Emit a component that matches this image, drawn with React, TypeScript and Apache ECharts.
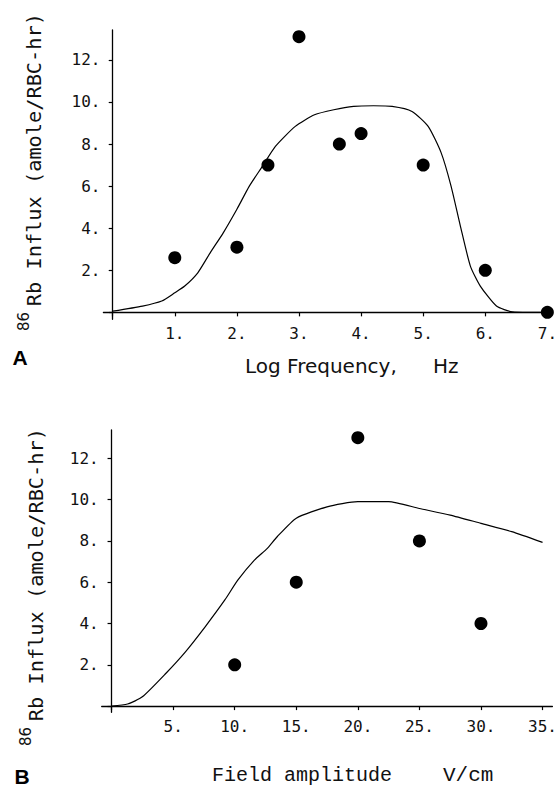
import React, { useEffect, useRef } from "react";
import * as echarts from "echarts";

// Panel A: Log frequency
const aPointX = [1, 2, 2.5, 3, 3.65, 4, 5, 6, 7];
const aPointY = [2.6, 3.1, 7.0, 13.1, 8.0, 8.5, 7.0, 2.0, 0];
const aCurveX = [0, 0.48, 0.79, 1.0, 1.16, 1.37, 1.57, 1.78, 2.0, 2.2, 2.41, 2.62, 2.94, 3.25, 3.56, 3.88, 4.2, 4.5, 4.82, 5.08, 5.29, 5.45, 5.6, 5.76, 5.92, 6.18, 6.44, 6.7, 7.0];
const aCurveY = [0.06, 0.3, 0.54, 0.93, 1.25, 1.88, 2.83, 3.78, 4.9, 6.0, 6.94, 7.89, 8.84, 9.39, 9.63, 9.79, 9.82, 9.79, 9.55, 8.84, 7.58, 5.99, 4.09, 2.2, 1.25, 0.3, 0.02, 0, 0];
const aXTicks = [0, 1, 2, 3, 4, 5, 6, 7];
const aXLabels = [1, 2, 3, 4, 5, 6, 7];

// Panel B: Field amplitude
const bPointX = [10, 15, 20, 25, 30];
const bPointY = [2.0, 6.0, 13.0, 8.0, 4.0];
const bCurveX = [0, 1.3, 2.5, 4.4, 6.0, 7.6, 9.2, 10.25, 11.6, 12.65, 13.45, 15, 17.5, 20, 22.5, 25, 27.5, 30, 32.5, 35];
const bCurveY = [0, 0.1, 0.45, 1.58, 2.63, 3.84, 5.14, 6.1, 7.07, 7.64, 8.2, 9.1, 9.65, 9.9, 9.9, 9.57, 9.25, 8.85, 8.45, 7.93];
const bXTicks = [0, 5, 10, 15, 20, 25, 30, 35];
const bXLabels = [5, 10, 15, 20, 25, 30, 35];

const yTicks = [0, 2, 4, 6, 8, 10, 12];
const yLabels = [2, 4, 6, 8, 10, 12];

const zip = (xs: number[], ys: number[]) => xs.map((x, i) => [x, ys[i]]);

export default function App() {
  const ref = useRef<HTMLDivElement>(null);
  useEffect(() => {
    if (!ref.current) return;
    const chart = echarts.init(ref.current, null, { renderer: "svg" });
    const tickFont = { fontFamily: "DejaVu Sans Mono", fontSize: 16, color: "#111" };
    const axisLine = { onZero: true, lineStyle: { color: "#000", width: 1.3 } };
    const axisTick = (vals: number[]) => ({ show: true, length: 4, customValues: vals, lineStyle: { color: "#000", width: 1.2 } });
    const mkX = (gridIndex: number, min: number, max: number, ticks: number[], labels: number[]) => ({
      type: "value", gridIndex, min, max,
      axisLine, axisTick: axisTick(ticks),
      axisLabel: { ...tickFont, customValues: labels, margin: 6, formatter: (v: number) => v + "." },
      splitLine: { show: false },
    });
    const mkY = (gridIndex: number, min: number, max: number) => ({
      type: "value", gridIndex, min, max,
      axisLine, axisTick: axisTick(yTicks),
      axisLabel: { ...tickFont, customValues: yLabels, margin: 3, formatter: (v: number) => v + "." },
      splitLine: { show: false },
    });
    const yTitle = (cx: number, cy: number) => ({
      type: "text", x: cx, y: cy, rotation: Math.PI / 2,
      style: {
        text: "{s|86}{g| }{m|Rb Influx (amole/RBC-hr)}",
        align: "center", verticalAlign: "middle",
        rich: {
          s: { fontFamily: "DejaVu Sans", fontSize: 15, verticalAlign: "top", lineHeight: 28, fill: "#111" },
          g: { fontFamily: "DejaVu Sans", fontSize: 18, verticalAlign: "bottom", lineHeight: 28, fill: "#111" },
          m: { fontFamily: "DejaVu Sans Mono", fontSize: 20.3, verticalAlign: "bottom", lineHeight: 28, fill: "#111" },
        },
        fill: "#111",
      },
    });
    chart.setOption({
      animation: false,
      backgroundColor: "#fff",
      grid: [
        { left: 103.4, right: 1, top: 30, height: 289.3 },
        { left: 101.7, right: 0, top: 430, height: 282.3 },
      ],
      xAxis: [
        mkX(0, -0.15, 7, aXTicks, aXLabels),
        mkX(1, -0.8, 35.8, bXTicks, bXLabels),
      ],
      yAxis: [mkY(0, -0.33, 13.42), mkY(1, -0.3, 13.37)],
      series: [
        { type: "line", xAxisIndex: 0, yAxisIndex: 0, data: zip(aCurveX, aCurveY), showSymbol: false, smooth: 0.2, lineStyle: { color: "#000", width: 1.2 } },
        { type: "scatter", xAxisIndex: 0, yAxisIndex: 0, data: zip(aPointX, aPointY), symbolSize: 13, itemStyle: { color: "#000", opacity: 1 } },
        { type: "line", xAxisIndex: 1, yAxisIndex: 1, data: zip(bCurveX, bCurveY), showSymbol: false, smooth: 0.2, lineStyle: { color: "#000", width: 1.2 } },
        { type: "scatter", xAxisIndex: 1, yAxisIndex: 1, data: zip(bPointX, bPointY), symbolSize: 13, itemStyle: { color: "#000", opacity: 1 } },
      ],
      graphic: [
        yTitle(30, 172),
        yTitle(32, 587),
        { type: "text", x: 20, y: 357, style: { text: "A", fontFamily: "Liberation Sans", fontWeight: "bold", fontSize: 21, fill: "#000", align: "center", verticalAlign: "middle" } },
        { type: "text", x: 22, y: 776, style: { text: "B", fontFamily: "Liberation Sans", fontWeight: "bold", fontSize: 21, fill: "#000", align: "center", verticalAlign: "middle" } },
        { type: "text", x: 245, y: 366, style: { text: "Log Frequency,", fontFamily: "DejaVu Sans", fontSize: 20, fill: "#111", align: "left", verticalAlign: "middle" } },
        { type: "text", x: 433, y: 366, style: { text: "Hz", fontFamily: "DejaVu Sans", fontSize: 20, fill: "#111", align: "left", verticalAlign: "middle" } },
        { type: "text", x: 212, y: 775, style: { text: "Field amplitude", fontFamily: "Liberation Mono", fontSize: 20, fill: "#111", align: "left", verticalAlign: "middle" } },
        { type: "text", x: 443, y: 775, style: { text: "V/cm", fontFamily: "Liberation Mono", fontSize: 21, fill: "#111", align: "left", verticalAlign: "middle" } },
      ],
    });
    return () => chart.dispose();
  }, []);
  return <div ref={ref} style={{ position: "fixed", left: 0, top: 0, width: 560, height: 787 }} />;
}
